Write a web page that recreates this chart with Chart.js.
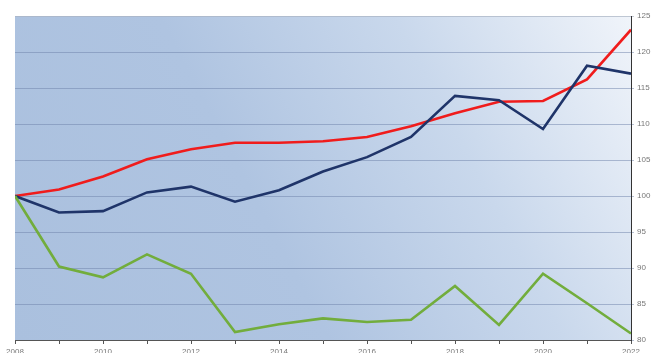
<!DOCTYPE html>
<html><head><meta charset="utf-8">
<script src="https://cdn.jsdelivr.net/npm/chart.js@4/dist/chart.umd.min.js"></script>
<style>html,body{margin:0;padding:0;overflow:hidden;background:#fff}#wrap{width:652px;height:358px}</style>
</head><body><div id="wrap"><canvas id="c" width="652" height="358"></canvas></div>
<script>
const years = [2008,2009,2010,2011,2012,2013,2014,2015,2016,2017,2018,2019,2020,2021,2022];
const redSeries = [100,100.9,102.7,105.1,106.5,107.4,107.4,107.6,108.2,109.7,111.5,113.1,113.2,116.2,123.1];
const navySeries = [100,97.7,97.9,100.5,101.3,99.2,100.8,103.4,105.4,108.2,113.9,113.3,109.3,118.1,117.0];
const greenSeries = [100,90.2,88.7,91.9,89.2,81.1,82.2,83.0,82.5,82.8,87.5,82.1,89.2,85.1,80.9];
const yTicks = [80,85,90,95,100,105,110,115,120,125];

const toPts = arr => arr.map((v,i)=>({x:years[i],y:v}));
const bgPlugin = {
  id:'bg',
  beforeDraw(chart){
    const {ctx, chartArea:a} = chart;
    ctx.save();
    const g = ctx.createLinearGradient(a.left, a.bottom, a.right, a.top);
    g.addColorStop(0,'#aac0de');
    g.addColorStop(0.4,'#afc4e1');
    g.addColorStop(0.7,'#c9d8ec');
    g.addColorStop(1,'#f0f4fa');
    ctx.fillStyle = g;
    ctx.fillRect(a.left, a.top, a.right-a.left, a.bottom-a.top);
    ctx.restore();
  }
};
const ds = (data,color)=>({data:toPts(data),borderColor:color,borderWidth:2.6,pointRadius:0,tension:0,fill:false});
new Chart(document.getElementById('c'),{
  type:'line',
  data:{datasets:[ds(greenSeries,'#72ad3c'),ds(navySeries,'#1f3469'),ds(redSeries,'#f01c1c')]},
  options:{
    responsive:false,animation:false,
    layout:{padding:{left:15,top:16,right:0,bottom:0}},
    plugins:{legend:{display:false},tooltip:{enabled:false}},
    scales:{
      x:{type:'linear',min:2008,max:2022,
        afterFit(s){s.height=18;},
        ticks:{stepSize:1,autoSkip:false,maxRotation:0,color:'#777',font:{family:'Liberation Sans',size:8},padding:3,
          callback:v=>(v%2===0?String(v):'')},
        grid:{display:true,drawOnChartArea:false,tickLength:4,color:'#555'},
        border:{display:true,color:'#555',width:1}},
      y:{position:'right',min:80,max:125,
        afterFit(s){s.width=21;},
        afterBuildTicks(s){s.ticks=yTicks.map(v=>({value:v}));},
        ticks:{color:'#777',font:{family:'Liberation Sans',size:8},padding:3},
        grid:{color:c=>(c.tick && c.tick.value===125 ? 'rgba(170,180,195,0.7)' : 'rgba(110,130,170,0.5)'),tickLength:3,lineWidth:1},
        border:{display:true,color:'#333',width:1}}
    }
  },
  plugins:[bgPlugin]
});
</script></body></html>
